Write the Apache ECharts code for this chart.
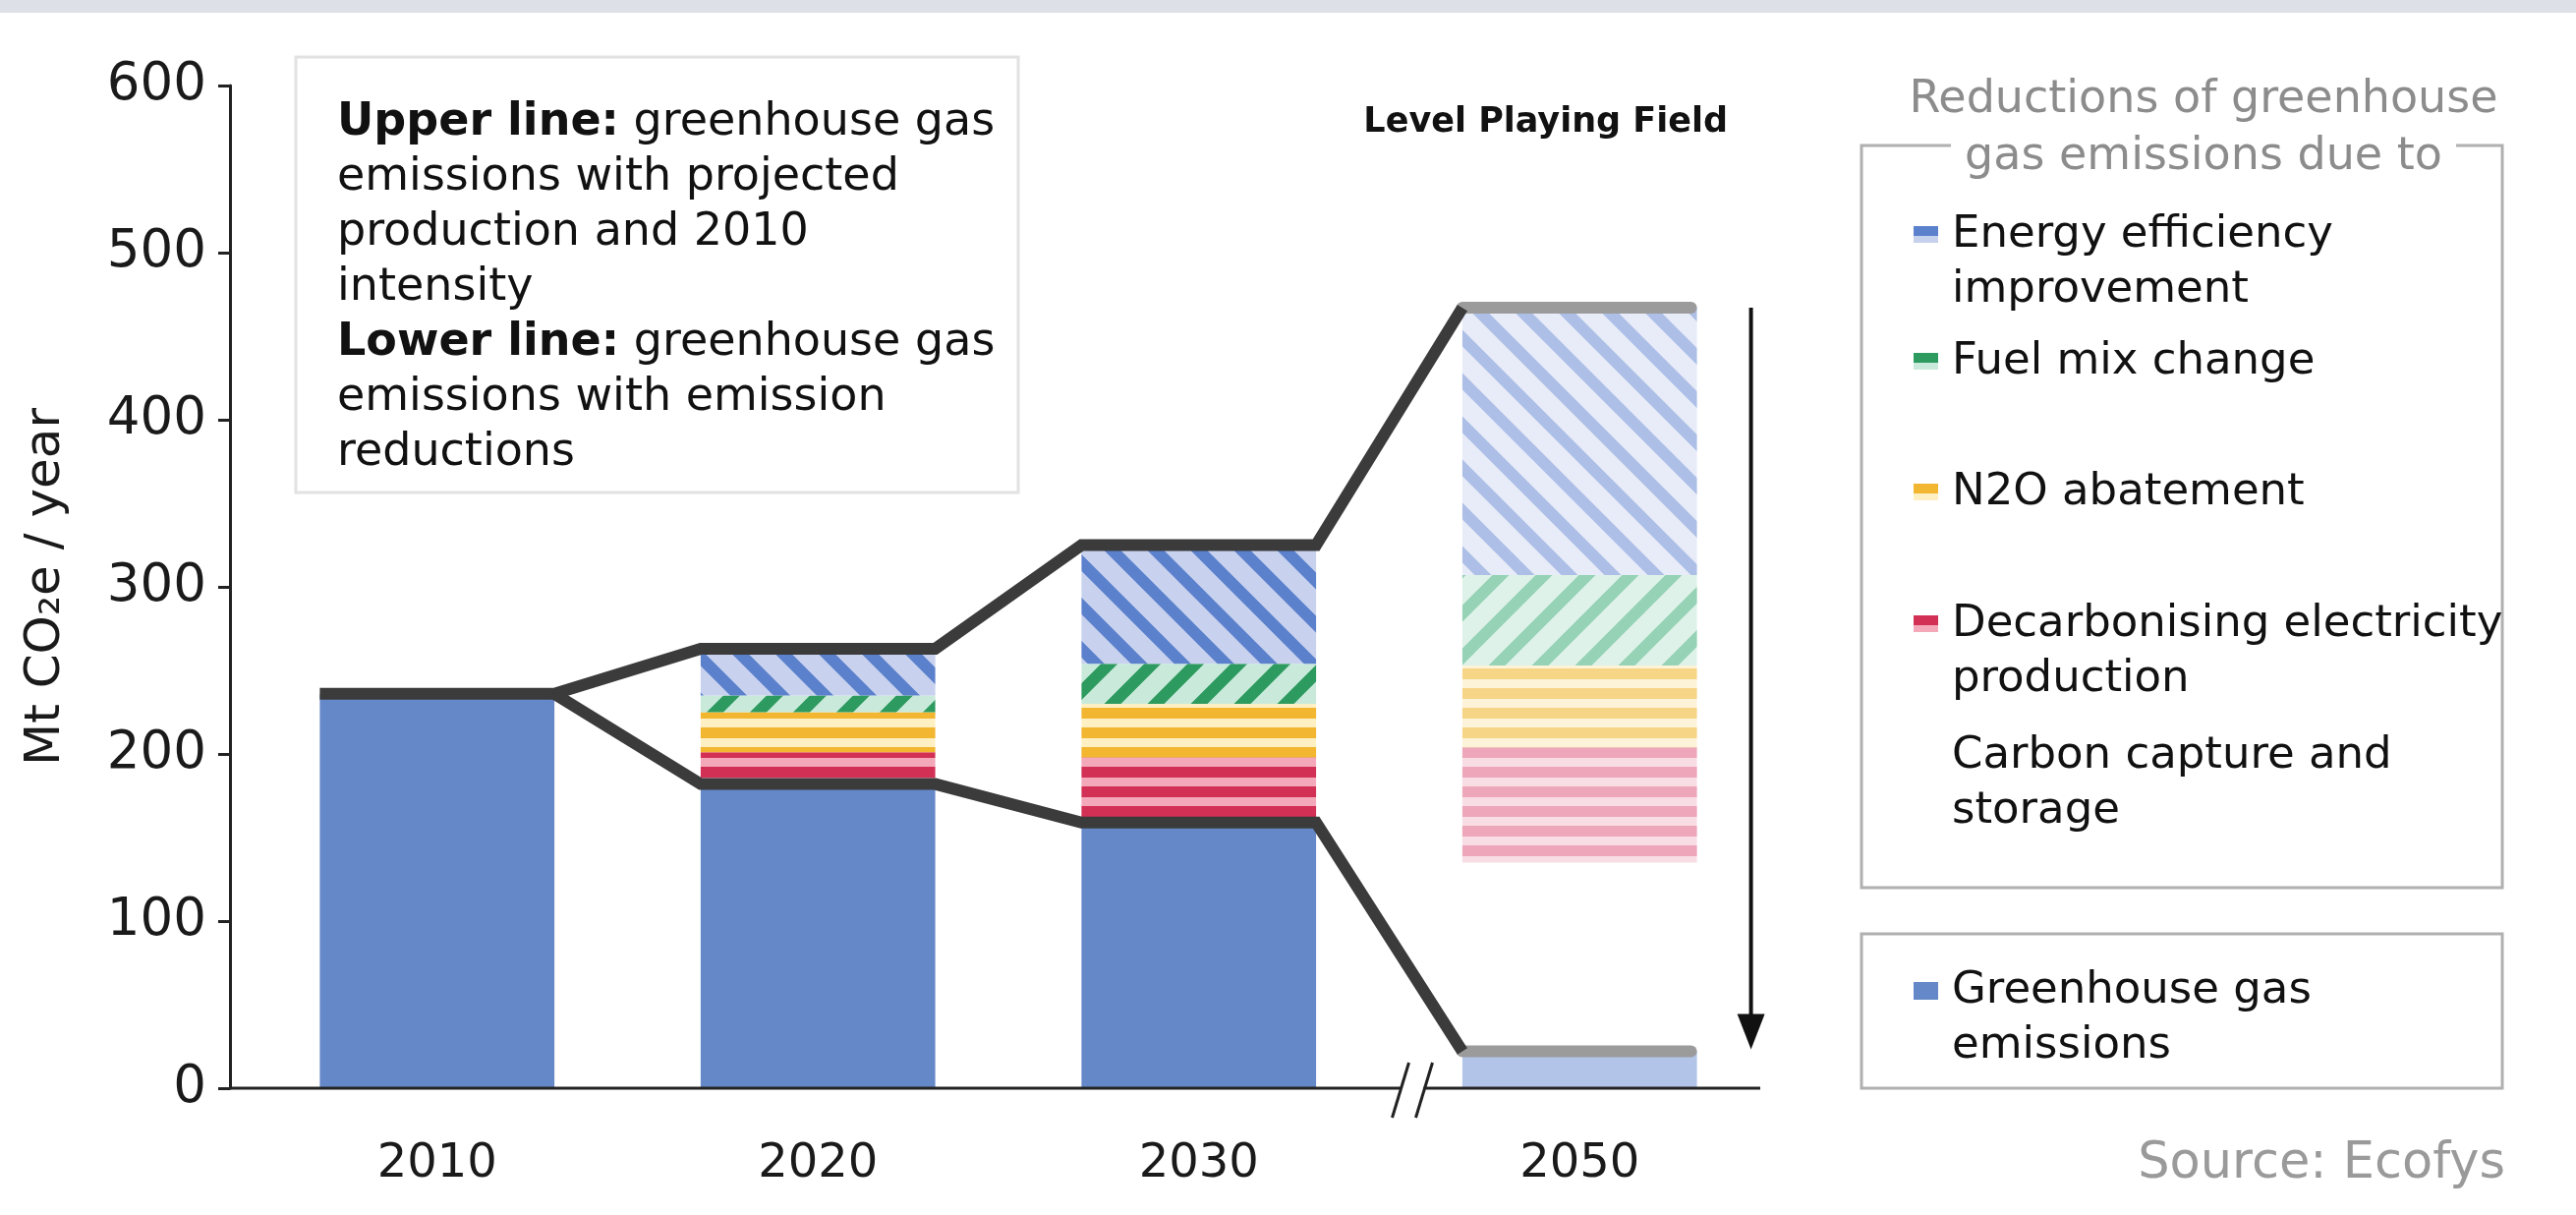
<!DOCTYPE html>
<html><head><meta charset="utf-8">
<script src="https://cdn.jsdelivr.net/npm/echarts@6/dist/echarts.min.js"></script>
<style>html,body{margin:0;padding:0;background:#fff}#c{width:2621px;height:1236px}</style>
</head><body><div id="c"></div>
<script>
// ---------- data ----------
const categories = ['2010', '2020', '2030', '2050'];
const emissions = [236, 182, 159, 22];
const ccs = [0, 0, 0, 113];
const decarbonising = [0, 19, 39, 69];
const n2oAbatement = [0, 24, 32, 49];
const fuelMix = [0, 10, 24, 54];
const efficiency = [0, 28, 71, 160];
const upperLine = [236, 263, 325, 467];
const lowerLine = [236, 182, 159, 22];
const yMin = 0, yMax = 600, yStep = 100;
const legendNames = ['Energy efficiency\nimprovement', 'Fuel mix change', 'N2O abatement',
  'Decarbonising electricity\nproduction', 'Carbon capture and\nstorage'];
const emissionsName = 'Greenhouse gas\nemissions';

// ---------- styles ----------
const FONT = '"DejaVu Sans", Verdana, sans-serif';
const FS = 45;
function stripes(bg, fg, kind, period, thick) {
  const c = document.createElement('canvas');
  c.width = period; c.height = period;
  const g = c.getContext('2d');
  g.fillStyle = bg; g.fillRect(0, 0, period, period);
  if (kind === 'h') {
    g.fillStyle = fg; g.fillRect(0, 0, period, thick);
  } else {
    g.strokeStyle = fg; g.lineWidth = thick; g.lineCap = 'square'; g.beginPath();
    for (let k = -2; k <= 2; k++) {
      if (kind === 'back') { g.moveTo(k * period - period, -period); g.lineTo(k * period + 2 * period, 2 * period); }
      else { g.moveTo(k * period - period, 2 * period); g.lineTo(k * period + 2 * period, -period); }
    }
    g.stroke();
  }
  return { image: c, repeat: 'repeat' };
}
const DIAG = 44, DTH = 12, HP = 20, HTH = 11;
const sty = {
  emis: '#6488c8', emisL: '#b3c4e9',
  eff: stripes('#c8d2ee', '#5b80cc', 'back', DIAG, DTH), effL: stripes('#e8ecf8', '#adbfe6', 'back', DIAG, DTH),
  fuel: stripes('#c9eadb', '#2d9a5f', 'fwd', DIAG, DTH), fuelL: stripes('#dff2e9', '#95d2b6', 'fwd', DIAG, DTH),
  n2o: stripes('#fff0c4', '#f2b631', 'h', HP, HTH), n2oL: stripes('#fdf3d8', '#f7d587', 'h', HP, HTH),
  dec: stripes('#f3a9ba', '#d33055', 'h', HP, HTH), decL: stripes('#f9dde5', '#eda6ba', 'h', HP, HTH),
  ccs: '#ffffff'
};
const BARW = 0.616;

function bar(name, data, col, colL) {
  return {
    name, type: 'bar', stack: 'total', barWidth: (BARW * 100) + '%', silent: true,
    itemStyle: { color: col },
    data: data.map((v, i) => i === 3 ? { value: v, itemStyle: { color: colL } } : v)
  };
}

const chart = echarts.init(document.getElementById('c'), null, { renderer: 'canvas' });

function lineRender(params, api) {
  if (params.dataIndex !== 0) return null;
  const cs = params.coordSys;
  const band = api.size([1, 0])[0];
  const h = band * BARW / 2;
  const P = (i, v) => api.coord([i, v]);
  const dark = '#3b3b3b', grey = '#9b9b9b', LW = 12;
  const up = [];
  for (let i = 0; i < 3; i++) { const p = P(i, upperLine[i]); up.push([p[0] - h, p[1]], [p[0] + h, p[1]]); }
  const u3 = P(3, upperLine[3]); up.push([u3[0] - h, u3[1]]);
  const lo = [];
  const l0 = P(0, lowerLine[0]); lo.push([l0[0] + h, l0[1]]);
  for (let i = 1; i < 3; i++) { const p = P(i, lowerLine[i]); lo.push([p[0] - h, p[1]], [p[0] + h, p[1]]); }
  const l3 = P(3, lowerLine[3]); lo.push([l3[0] - h, l3[1]]);
  const y0 = P(0, 0)[1];
  const mid = (P(2, 0)[0] + P(3, 0)[0]) / 2;
  const ax = u3[0] + h + 55;
  const ch = [];
  ch.push({ type: 'line', shape: { x1: cs.x - 17, y1: y0, x2: mid + 12, y2: y0 }, style: { stroke: '#222', lineWidth: 3 } });
  ch.push({ type: 'line', shape: { x1: mid + 35, y1: y0, x2: cs.x + cs.width - 10, y2: y0 }, style: { stroke: '#222', lineWidth: 3 } });
  ch.push({ type: 'line', shape: { x1: mid + 3, y1: y0 + 30, x2: mid + 20, y2: y0 - 26 }, style: { stroke: '#222', lineWidth: 3 } });
  ch.push({ type: 'line', shape: { x1: mid + 27, y1: y0 + 30, x2: mid + 44, y2: y0 - 26 }, style: { stroke: '#222', lineWidth: 3 } });
  ch.push({ type: 'line', shape: { x1: u3[0] - h, y1: u3[1], x2: u3[0] + h - 6, y2: u3[1] }, style: { stroke: grey, lineWidth: LW, lineCap: 'round' } });
  ch.push({ type: 'line', shape: { x1: l3[0] - h, y1: l3[1], x2: l3[0] + h - 6, y2: l3[1] }, style: { stroke: grey, lineWidth: LW, lineCap: 'round' } });
  ch.push({ type: 'polyline', shape: { points: up }, style: { stroke: dark, lineWidth: LW, fill: null, lineJoin: 'miter' } });
  ch.push({ type: 'polyline', shape: { points: lo }, style: { stroke: dark, lineWidth: LW, fill: null, lineJoin: 'miter' } });
  ch.push({ type: 'line', shape: { x1: ax, y1: u3[1], x2: ax, y2: l3[1] - 30 }, style: { stroke: '#111', lineWidth: 4 } });
  ch.push({ type: 'polygon', shape: { points: [[ax - 14, l3[1] - 38], [ax + 14, l3[1] - 38], [ax, l3[1] - 2]] }, style: { fill: '#111' } });
  return { type: 'group', children: ch };
}

// ---------- graphic decorations ----------
const mc = document.createElement('canvas').getContext('2d');
const TFS = 46;
mc.font = TFS + 'px ' + FONT;
const g = [];
g.push({ type: 'rect', left: 0, top: 0, shape: { width: 2621, height: 13 }, style: { fill: '#dde1e7' }, silent: true });
g.push({ type: 'rect', shape: { x: 301, y: 58, width: 735, height: 443 }, style: { fill: '#fff', stroke: '#e2e2e2', lineWidth: 3 }, silent: true, z: 1 });
g.push({
  type: 'text', x: 343, y: 97, z: 2, silent: true,
  style: {
    text: '{b|Upper line:} greenhouse gas\nemissions with projected\nproduction and 2010\nintensity\n{b|Lower line:} greenhouse gas\nemissions with emission\nreductions',
    font: '46px ' + FONT, fill: '#111', lineHeight: 56, verticalAlign: 'top',
    rich: { b: { fontWeight: 'bold', fontSize: 46, fontFamily: FONT, fill: '#111', lineHeight: 56 } }
  }
});
g.push({ type: 'text', x: 1758, y: 125, silent: true, style: { text: 'Level Playing Field', font: 'bold 35px ' + FONT, fill: '#111', align: 'right', verticalAlign: 'middle' } });

const LBX1 = 1894, LBX2 = 2546, LBY1 = 148, LBY2 = 903;
const titleCx = 2242;
const t2w = mc.measureText('gas emissions due to').width;
g.push({ type: 'text', x: titleCx, y: 102, silent: true, style: { text: 'Reductions of greenhouse', font: TFS + 'px ' + FONT, fill: '#8c8c8c', align: 'center', verticalAlign: 'middle' } });
g.push({ type: 'text', x: titleCx, y: 160, silent: true, style: { text: 'gas emissions due to', font: TFS + 'px ' + FONT, fill: '#8c8c8c', align: 'center', verticalAlign: 'middle' } });
g.push({ type: 'polyline', silent: true, shape: { points: [[titleCx - t2w / 2 - 14, LBY1], [LBX1, LBY1], [LBX1, LBY2], [LBX2, LBY2], [LBX2, LBY1], [titleCx + t2w / 2 + 14, LBY1]] }, style: { stroke: '#b0b0b0', lineWidth: 3, fill: null } });
g.push({ type: 'rect', silent: true, shape: { x: LBX1, y: 950, width: LBX2 - LBX1, height: 157 }, style: { stroke: '#b0b0b0', lineWidth: 3, fill: null } });

const legY = [239, 368, 501, 635, 769];
const legCol = [['#5b80cc', '#c6d1ee'], ['#2d9a5f', '#c9eadb'], ['#f2b631', '#fff0c4'], ['#d33055', '#f3a9ba'], ['#ffffff', '#ffffff']];
legendNames.forEach((n, i) => {
  g.push({ type: 'rect', silent: true, shape: { x: 1947, y: legY[i] - 9, width: 25, height: 17 },
    style: { fill: new echarts.graphic.LinearGradient(0, 0, 0, 1, [{ offset: 0, color: legCol[i][0] }, { offset: 0.6, color: legCol[i][0] }, { offset: 0.61, color: legCol[i][1] }, { offset: 1, color: legCol[i][1] }]) } });
  g.push({ type: 'text', x: 1986, y: legY[i] - 28, silent: true, style: { text: n, font: FS + 'px ' + FONT, fill: '#111', lineHeight: 56, verticalAlign: 'top' } });
});
g.push({ type: 'rect', silent: true, shape: { x: 1947, y: 999, width: 25, height: 18 }, style: { fill: sty.emis } });
g.push({ type: 'text', x: 1986, y: 980, silent: true, style: { text: emissionsName, font: FS + 'px ' + FONT, fill: '#111', lineHeight: 56, verticalAlign: 'top' } });
g.push({ type: 'text', x: 2549, y: 1185, silent: true, style: { text: 'Source: Ecofys', font: '51px ' + FONT, fill: '#9a9a9a', align: 'right', verticalAlign: 'middle' } });

chart.setOption({
  animation: false,
  backgroundColor: '#ffffff',
  grid: { left: 251, right: 820, top: 87, bottom: 129, containLabel: false },
  xAxis: {
    type: 'category', data: categories,
    axisLine: { show: false }, axisTick: { show: false },
    axisLabel: { fontSize: 48, fontFamily: FONT, color: '#1a1a1a', margin: 54 }
  },
  yAxis: {
    type: 'value', min: yMin, max: yMax, interval: yStep, offset: 17,
    name: 'Mt CO\u2082e / year', nameLocation: 'middle', nameGap: 162, nameRotate: 90,
    nameTextStyle: { fontSize: 50, fontFamily: FONT, color: '#1a1a1a' },
    axisLine: { show: true, lineStyle: { color: '#222', width: 3 } },
    axisTick: { show: true, length: 12, lineStyle: { color: '#222', width: 3 } },
    axisLabel: { fontSize: 53, fontFamily: FONT, color: '#1a1a1a', margin: 24 },
    splitLine: { show: false }
  },
  graphic: g,
  series: [
    bar('Greenhouse gas emissions', emissions, sty.emis, sty.emisL),
    bar('Carbon capture and storage', ccs, sty.ccs, sty.ccs),
    bar('Decarbonising electricity production', decarbonising, sty.dec, sty.decL),
    bar('N2O abatement', n2oAbatement, sty.n2o, sty.n2oL),
    bar('Fuel mix change', fuelMix, sty.fuel, sty.fuelL),
    bar('Energy efficiency improvement', efficiency, sty.eff, sty.effL),
    { type: 'custom', silent: true, clip: false, z: 5, data: [[0, 0]], renderItem: lineRender }
  ]
});
</script></body></html>
